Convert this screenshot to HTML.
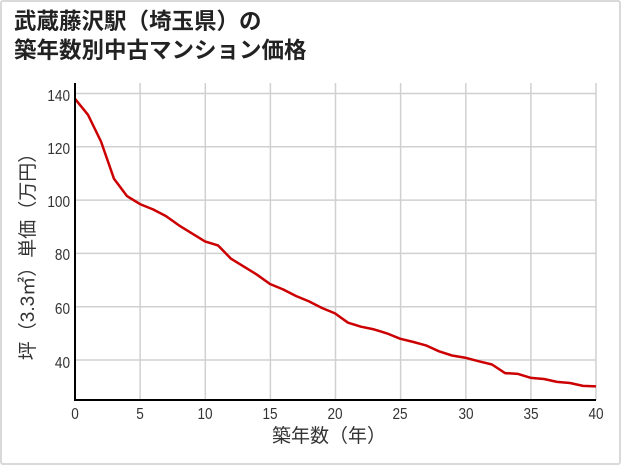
<!DOCTYPE html>
<html><head><meta charset="utf-8"><style>
html,body{margin:0;padding:0;background:#fff}
.w{position:relative;width:617px;height:461px;border:2px solid #d9d9d9;border-radius:3px;overflow:hidden}
svg{position:absolute;left:-2px;top:-2px}
</style></head><body><div class="w">
<svg width="621" height="465" font-family="'Liberation Sans','Noto Sans CJK JP',sans-serif">
<text x="14" y="29" font-size="22.5" font-weight="bold" fill="#222">武蔵藤沢駅（埼玉県）の</text>
<text x="14" y="58" font-size="22.5" font-weight="bold" fill="#222">築年数別中古マンション価格</text>
<g stroke="#d0d0d0" stroke-width="1.5">
<line x1="75" y1="93.5" x2="596" y2="93.5"/><line x1="75" y1="146.8" x2="596" y2="146.8"/>
<line x1="75" y1="200.1" x2="596" y2="200.1"/><line x1="75" y1="253.4" x2="596" y2="253.4"/>
<line x1="75" y1="306.7" x2="596" y2="306.7"/><line x1="75" y1="360" x2="596" y2="360"/>
<line x1="140.1" y1="83" x2="140.1" y2="400"/><line x1="205.3" y1="83" x2="205.3" y2="400"/>
<line x1="270.4" y1="83" x2="270.4" y2="400"/><line x1="335.5" y1="83" x2="335.5" y2="400"/>
<line x1="400.6" y1="83" x2="400.6" y2="400"/><line x1="465.8" y1="83" x2="465.8" y2="400"/>
<line x1="530.9" y1="83" x2="530.9" y2="400"/><line x1="596" y1="83" x2="596" y2="400"/>
</g>
<g font-size="16" fill="#333" text-anchor="end" transform="translate(70,0) scale(0.85,1)">
<text x="0" y="101">140</text><text x="0" y="154">120</text><text x="0" y="207">100</text>
<text x="0" y="260">80</text><text x="0" y="314">60</text><text x="0" y="368">40</text>
</g>
<g font-size="16" fill="#333" text-anchor="middle">
<text transform="translate(75,419) scale(0.85,1)">0</text>
<text transform="translate(140,419) scale(0.85,1)">5</text>
<text transform="translate(205,419) scale(0.85,1)">10</text>
<text transform="translate(270,419) scale(0.85,1)">15</text>
<text transform="translate(335,419) scale(0.85,1)">20</text>
<text transform="translate(400,419) scale(0.85,1)">25</text>
<text transform="translate(466,419) scale(0.85,1)">30</text>
<text transform="translate(531,419) scale(0.85,1)">35</text>
<text transform="translate(596,419) scale(0.85,1)">40</text>
<text x="329" y="442" font-size="19">築年数（年）</text>
<text transform="translate(34,252) rotate(-90)" font-size="19">坪（3.3㎡）単価（万円）</text>
</g>
<polyline fill="none" stroke="#cc0000" stroke-width="2.5" stroke-linejoin="round" points="
75,98.8 88,114.8 101,141.5 114,178.8 127,196.1 140,204.1 153,209.4 166,216.1 179,225.4 192,233.4 205,241.4 218,245.4 231,258.7 244,266.7 257,274.7 270,284.0 283,289.4 296,296.0 309,301.4 322,308.0 335,313.4 348,322.7 361,326.7 374,329.4 387,333.4 400,338.7 413,341.9 426,345.4 439,351.3 452,355.5 466,357.9 479,361.3 492,364.5 505,373.1 518,373.9 531,377.9 544,379.0 557,381.9 570,383.0 583,385.9 596,386.4"/>
<line x1="75" y1="83" x2="75" y2="401" stroke="#000" stroke-width="2"/>
<line x1="74" y1="400" x2="596" y2="400" stroke="#000" stroke-width="2"/>
</svg></div></body></html>
